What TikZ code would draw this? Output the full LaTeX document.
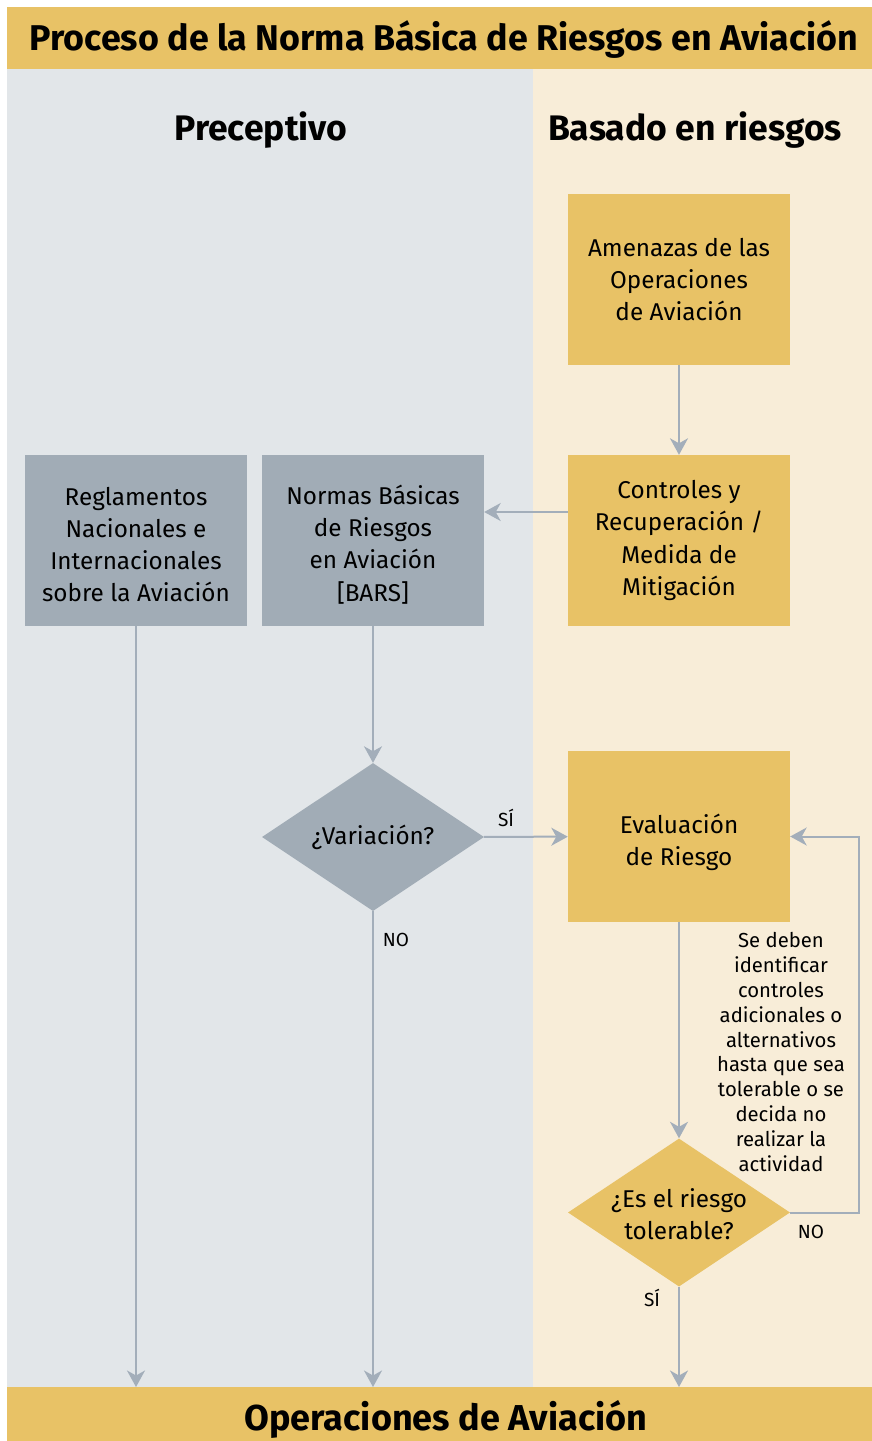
\documentclass[tikz,border=0pt]{standalone}
\usepackage{fontspec}
\setmainfont{Fira Sans}
\usetikzlibrary{shapes.geometric,arrows.meta}
\definecolor{gold}{HTML}{E8C266}
\definecolor{panelgray}{HTML}{E2E6E9}
\definecolor{cream}{HTML}{F8EDD8}
\definecolor{boxgray}{HTML}{A1ACB6}
\definecolor{arrowc}{HTML}{A3AEBA}
\tikzset{
  goldbox/.style={fill=gold, draw=none, minimum width=222pt, minimum height=171pt, inner sep=0pt, align=center, font=\fontsize{24.3}{32.3}\selectfont},
  graybox/.style={goldbox, fill=boxgray},
  boxtext/.style={inner sep=0pt, align=center, font=\fontsize{24.3}{32.3}\selectfont},
  decision/.style={diamond, draw=none, minimum width=222pt, minimum height=148pt, inner sep=0pt},
  arr/.style={draw=arrowc, line width=2pt, -{Stealth[length=16.5pt,width=18pt,inset=5pt]}},
  lbl/.style={font=\fontsize{19}{22}\selectfont, inner sep=0pt},
  heading/.style={font=\bfseries\fontsize{35.5}{40}\selectfont, inner sep=0pt}
}
\begin{document}
\begin{tikzpicture}[x=1pt,y=-1pt]
\useasboundingbox (0,0) rectangle (872,1441);
\fill[white] (0,0) rectangle (872,1441);
% backgrounds
\fill[panelgray] (7,69) rectangle (533,1387);
\fill[cream] (533,69) rectangle (872,1387);
\fill[gold] (7,7) rectangle (872,69);
\node[heading, font=\bfseries\fontsize{35.8}{40}\selectfont] (title) at (444,40) {Proceso de la Norma Básica de Riesgos en Aviación};
\node[fill=gold, minimum width=865pt, minimum height=54pt, inner sep=0pt, anchor=north west] (band) at (7,1387) {};
\node[heading, font=\bfseries\fontsize{36}{40}\selectfont] (bandt) at (446,1419) {Operaciones de Aviación};
\node[heading] (hpre) at (261,130) {Preceptivo};
\node[heading] (hbas) at (695,130) {Basado en riesgos};
% boxes
\node[goldbox] (amen) at (679,279.5) {Amenazas de las\\Operaciones\\de Aviación};
\node[goldbox] (ctrl) at (679,540.5) {Controles y\\Recuperación /\\Medida de\\Mitigación};
\node[graybox] (norm) at (373,540.5) {};
\node[boxtext] (normt) at (373,544.5) {Normas Básicas\\de Riesgos\\en Aviación\\{[}BARS{]}};
\node[graybox] (regl) at (136,540.5) {};
\node[boxtext] (reglt) at (136,544.5) {Reglamentos\\Nacionales e\\Internacionales\\sobre la Aviación};
\node[goldbox] (eval) at (679,836.5) {};
\node[boxtext] (evalt) at (679,842.5) {Evaluación\\de Riesgo};
\node[decision, fill=boxgray] (var) at (373,837) {};
\node[boxtext] (vart) at (373,837) {¿Variación?};
\node[decision, fill=gold] (tol) at (679,1212.5) {};
\node[boxtext] (tolt) at (679,1214) {¿Es el riesgo\\tolerable?};
% connectors
\coordinate (cy) at (0,512);
\coordinate (loopc) at (859,1212.5);
\draw[arr] (amen) -- (ctrl);
\draw[arr] (ctrl.west |- cy) -- (norm.east |- cy);
\draw[arr] (norm) -- (var);
\draw[arr] (var) -- (eval);
\draw[arr] (var.south) -- (var.south |- band.north);
\draw[arr] (regl.south) -- (regl.south |- band.north);
\draw[arr] (eval) -- (tol);
\draw[arr] (tol.south) -- (tol.south |- band.north);
\draw[arr] (tol.east) -- (loopc) -- (loopc |- eval.east) -- (eval.east);
% labels
\node[lbl] (lsi1) at (506,818) {SÍ};
\node[lbl] (lno1) at (396,940) {NO};
\node[lbl] (lno2) at (811,1232) {NO};
\node[lbl] (lsi2) at (652,1298) {SÍ};
\node[lbl, align=center, font=\fontsize{20.3}{24.8}\selectfont] (note) at (781,1052) {Se deben\\identificar\\controles\\adicionales o\\alternativos\\hasta que sea\\tolerable o se\\decida no\\realizar la\\actividad};
\end{tikzpicture}
\end{document}
